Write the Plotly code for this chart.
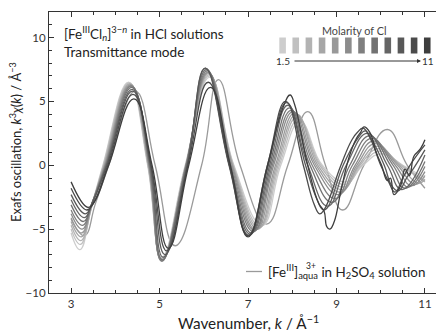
import plotly.graph_objects as go

# ---------------- data ----------------
molarity_labels = ["1.5", "11"]
colors = ["#cdcdcd", "#c0c0c0", "#b3b3b3", "#a6a6a6", "#999999", "#8c8c8c",
          "#7f7f7f", "#727272", "#656565", "#585858", "#4b4b4b", "#3e3e3e"]

k0 = [3.0, 3.2, 3.45, 3.72, 4.3, 4.73, 5.05, 5.58, 6.14, 6.68, 7.32, 7.74, 8.18, 8.68, 9.22, 9.6, 10.0, 10.5, 11.0]
y0 = [-5.3, -6.6, -3.4, 0, 6.5, 0, -7.2, 0, 6.9, 0, -4.7, 0, 3.4, 0, -1.3, 0, 0.9, 0, -1.0]

k1 = [3.0, 3.21, 3.46, 3.73, 4.31, 4.74, 5.05, 5.59, 6.13, 6.67, 7.28, 7.71, 8.15, 8.65, 9.2, 9.57, 9.98, 10.48, 11.0]
y1 = [-5.0, -6.2, -3.3, 0, 6.45, 0, -7.3, 0, 7.0, 0, -4.8, 0, 3.6, 0, -1.5, 0, 1.1, 0, -1.2]

k2 = [3.0, 3.22, 3.47, 3.74, 4.32, 4.74, 5.05, 5.59, 6.12, 6.66, 7.25, 7.68, 8.12, 8.62, 9.17, 9.53, 9.95, 10.45, 11.0]
y2 = [-4.7, -5.9, -3.2, 0, 6.4, 0, -7.35, 0, 7.1, 0, -4.9, 0, 3.8, 0, -1.7, 0, 1.3, 0, -1.3]

k3 = [3.0, 3.23, 3.47, 3.75, 4.33, 4.75, 5.05, 5.6, 6.11, 6.65, 7.22, 7.65, 8.1, 8.58, 9.14, 9.5, 9.92, 10.42, 10.85, 11.0]
y3 = [-4.4, -5.6, -3.1, 0, 6.35, 0, -7.4, 0, 7.2, 0, -5.0, 0, 4.0, 0, -1.9, 0, 1.5, 0, -1.4, -1.1]

k4 = [3.0, 3.24, 3.47, 3.76, 4.34, 4.76, 5.05, 5.6, 6.1, 6.64, 7.18, 7.62, 8.06, 8.54, 9.1, 9.46, 9.88, 10.38, 10.78, 11.0]
y4 = [-4.1, -5.3, -3.0, 0, 6.3, 0, -7.45, 0, 7.25, 0, -5.05, 0, 4.1, 0, -2.1, 0, 1.7, 0, -1.5, -0.8]

k5 = [3.0, 3.25, 3.48, 3.77, 4.35, 4.76, 5.05, 5.6, 6.09, 6.62, 7.15, 7.58, 8.02, 8.5, 9.05, 9.42, 9.84, 10.33, 10.7, 11.0]
y5 = [-3.8, -5.0, -2.95, 0, 6.25, 0, -7.5, 0, 7.3, 0, -5.1, 0, 4.2, 0, -2.3, 0, 1.9, 0, -1.6, -0.5]

k6 = [3.0, 3.26, 3.48, 3.78, 4.36, 4.77, 5.05, 5.6, 6.08, 6.6, 7.12, 7.55, 7.98, 8.45, 8.98, 9.36, 9.8, 10.28, 10.62, 11.0]
y6 = [-3.5, -4.7, -2.9, 0, 6.2, 0, -7.5, 0, 7.4, 0, -5.2, 0, 4.3, 0, -2.6, 0, 2.1, 0, -1.7, -0.1]

k7 = [3.0, 3.28, 3.48, 3.79, 4.37, 4.78, 5.06, 5.61, 6.06, 6.59, 7.08, 7.52, 7.94, 8.4, 8.9, 9.3, 9.75, 10.22, 10.55, 11.0]
y7 = [-3.1, -4.4, -2.9, 0, 6.1, 0, -7.4, 0, 7.5, 0, -5.3, 0, 4.5, 0, -2.9, 0, 2.3, 0, -1.8, 0.3]

k8 = [3.0, 3.3, 3.48, 3.8, 4.38, 4.79, 5.08, 5.62, 6.04, 6.58, 7.05, 7.49, 7.9, 8.35, 8.8, 9.22, 9.7, 10.15, 10.48, 11.0]
y8 = [-2.7, -4.1, -2.9, 0, 5.95, 0, -7.2, 0, 7.6, 0, -5.4, 0, 4.7, 0, -3.2, 0, 2.5, 0, -1.9, 0.8]

k9 = [3.0, 3.32, 3.48, 3.81, 4.39, 4.8, 5.12, 5.63, 6.03, 6.57, 7.02, 7.46, 7.87, 8.3, 8.55, 8.7, 8.8, 9.15,
      9.5, 9.65, 9.8, 10.08, 10.25, 10.4, 10.6, 10.75, 11.0]
y9 = [-2.3, -3.8, -2.95, 0, 5.8, 0, -7.0, 0, 7.6, 0, -5.5, 0, 4.9, 0, -2.6, -3.5, -3.3, 0,
      2.2, 2.7, 2.0, 0, -1.6, -2.0, -0.9, -0.2, 1.2]

k10 = [3.0, 3.35, 3.5, 3.83, 4.4, 4.81, 5.16, 5.64, 6.1, 6.58, 7.0, 7.44, 7.85, 8.25, 8.5, 8.62, 8.72, 9.1,
       9.35, 9.48, 9.6, 9.75, 10.0, 10.18, 10.32, 10.5, 10.7, 11.0]
y10 = [-1.8, -3.5, -3.0, 0, 5.55, 0, -6.7, 0, 6.5, 0, -5.5, 0, 5.0, 0, -3.1, -3.8, -3.5, 0,
       2.0, 2.6, 2.9, 2.2, 0, -1.3, -2.1, -1.0, 0.2, 1.6]

k11 = [3.0, 3.38, 3.52, 3.85, 4.42, 4.83, 5.2, 5.66, 6.15, 6.6, 7.0, 7.44, 7.8, 7.95, 8.05, 8.35, 8.6, 8.72,
       8.78, 8.85, 8.95, 9.1, 9.3, 9.45, 9.55, 9.62, 9.75, 9.9, 10.02, 10.15, 10.22, 10.3, 10.45, 10.55,
       10.65, 10.75, 10.9, 11.0]
y11 = [-1.3, -3.3, -2.9, 0, 5.2, 0, -6.5, 0, 6.1, 0, -5.6, 0, 4.6, 5.5, 4.8, 0, -3.0, -3.6,
       -4.8, -5.0, -4.4, -2.0, 0.8, 2.1, 2.6, 3.0, 2.6, 1.0, 0, -1.2, -1.0, -2.3, -1.6, -0.3,
       -0.8, 0.7, 1.3, 2.0]

k_aqua = [3.0, 3.3, 3.55, 3.85, 4.45, 4.9, 5.35, 5.95, 6.33, 6.82, 7.42, 7.9, 8.35, 8.75, 9.14, 9.62, 10.15, 10.6, 11.0]
y_aqua = [-4.2, -5.5, -3.0, 0, 5.8, 0, -6.3, 0, 6.7, 0, -4.6, 0, 4.2, 0, -3.5, 0, 2.8, 0, -1.8]

series_k = [k0, k1, k2, k3, k4, k5, k6, k7, k8, k9, k10, k11]
series_y = [y0, y1, y2, y3, y4, y5, y6, y7, y8, y9, y10, y11]
aqua_color = "#9a9a9a"

FONT = "Lato"
TXT = "#222222"

# ---------------- figure ----------------
fig = go.Figure()
fig.add_trace(go.Scatter(x=k_aqua, y=y_aqua, mode="lines",
                         line=dict(color=aqua_color, width=1.3, shape="spline", smoothing=1.3),
                         showlegend=False, hoverinfo="skip"))
for kk, yy, c in zip(series_k, series_y, colors):
    fig.add_trace(go.Scatter(x=kk, y=yy, mode="lines",
                             line=dict(color=c, width=1.3, shape="spline", smoothing=1.3),
                             showlegend=False, hoverinfo="skip"))

# paper-coordinate helpers (plot area: x 49..436 px, y 12..293 px)
L, R, T, B = 49, 436, 12, 293
def px(x):
    return (x - L) / (R - L)
def py(y):
    return (B - y) / (B - T)

shapes = []
# colour swatches of the molarity key
for i, c in enumerate(colors):
    x0 = 279.3 + i * 13.15
    shapes.append(dict(type="rect", xref="paper", yref="paper",
                       x0=px(x0), x1=px(x0 + 6.6), y0=py(53.5), y1=py(37.5),
                       fillcolor=c, line=dict(width=0)))
# legend line for aqua
shapes.append(dict(type="line", xref="paper", yref="paper",
                   x0=px(246), x1=px(262), y0=py(271.5), y1=py(271.5),
                   line=dict(color=aqua_color, width=1.3)))

annotations = [
    dict(text="[Fe<sup>III</sup>Cl<sub><i>n</i></sub>]<sup>3−<i>n</i></sup> in HCl solutions",
         x=px(62), y=py(34), xref="paper", yref="paper", xanchor="left", yanchor="middle",
         showarrow=False, font=dict(family=FONT, size=13.4, color=TXT)),
    dict(text="Transmittance mode", x=px(62), y=py(52), xref="paper", yref="paper",
         xanchor="left", yanchor="middle", showarrow=False,
         font=dict(family=FONT, size=13.6, color=TXT)),
    dict(text="Molarity of Cl", x=px(353.5), y=py(30), xref="paper", yref="paper",
         xanchor="center", yanchor="middle", showarrow=False,
         font=dict(family=FONT, size=10.8, color="#444")),
    dict(text="", x=px(421), y=py(61), xref="paper", yref="paper",
         ax=-128, ay=0, showarrow=True, arrowhead=2, arrowsize=0.8, arrowwidth=1,
         arrowcolor="#333"),
    dict(text=molarity_labels[0], x=px(283), y=py(61), xref="paper", yref="paper",
         xanchor="center", yanchor="middle", showarrow=False,
         font=dict(family=FONT, size=10, color="#333")),
    dict(text=molarity_labels[1], x=px(427.5), y=py(61), xref="paper", yref="paper",
         xanchor="center", yanchor="middle", showarrow=False,
         font=dict(family=FONT, size=10, color="#333")),
    dict(text="[Fe<sup>III</sup>]<sub>aqua</sub> in H<sub>2</sub>SO<sub>4</sub> solution",
         x=px(266), y=py(271.5), xref="paper", yref="paper", xanchor="left", yanchor="middle",
         showarrow=False, font=dict(family=FONT, size=13.4, color=TXT)),
    dict(text="3+", x=px(303.5), y=py(265.5), xref="paper", yref="paper", xanchor="left",
         yanchor="middle", showarrow=False, font=dict(family=FONT, size=8.5, color=TXT)),
    # axis titles
    dict(text="Wavenumber, <i>k</i> / Å<sup>−1</sup>", x=px(248.5), y=py(322),
         xref="paper", yref="paper", xanchor="center", yanchor="middle", showarrow=False,
         font=dict(family=FONT, size=15.3, color=TXT)),
    dict(text="Exafs oscillation, <i>k</i><sup>3</sup><i>χ</i>(<i>k</i>) / Å<sup>−3</sup>",
         x=px(15), y=py(142), xref="paper", yref="paper", xanchor="center", yanchor="middle",
         textangle=-90, showarrow=False, font=dict(family=FONT, size=13, color=TXT)),
]

axis_common = dict(showline=True, linecolor="#333", linewidth=1.2, ticks="inside",
                   ticklen=5, tickwidth=1.1, tickcolor="#333", showgrid=False, zeroline=False,
                   automargin=False,
                   tickfont=dict(family=FONT, size=11.5, color="#333"))

fig.update_layout(
    width=441, height=333,
    margin=dict(l=L, r=441 - R, t=T, b=333 - B),
    paper_bgcolor="white", plot_bgcolor="white",
    font=dict(family=FONT, color=TXT),
    shapes=shapes, annotations=annotations,
    xaxis=dict(range=[2.5, 11.25], tick0=3, dtick=2, mirror="ticks",
               minor=dict(dtick=0.5, tick0=3, ticks="inside", ticklen=3, tickcolor="#333"),
               **axis_common),
    yaxis=dict(range=[-10, 12], tick0=0, dtick=5, mirror=False,
               minor=dict(dtick=1, tick0=0, ticks="inside", ticklen=3, tickcolor="#333"),
               **axis_common),
)

fig.write_html("out.html", config={"displayModeBar": False},
               post_script="document.body.style.margin='0';document.body.style.overflow='hidden';")
